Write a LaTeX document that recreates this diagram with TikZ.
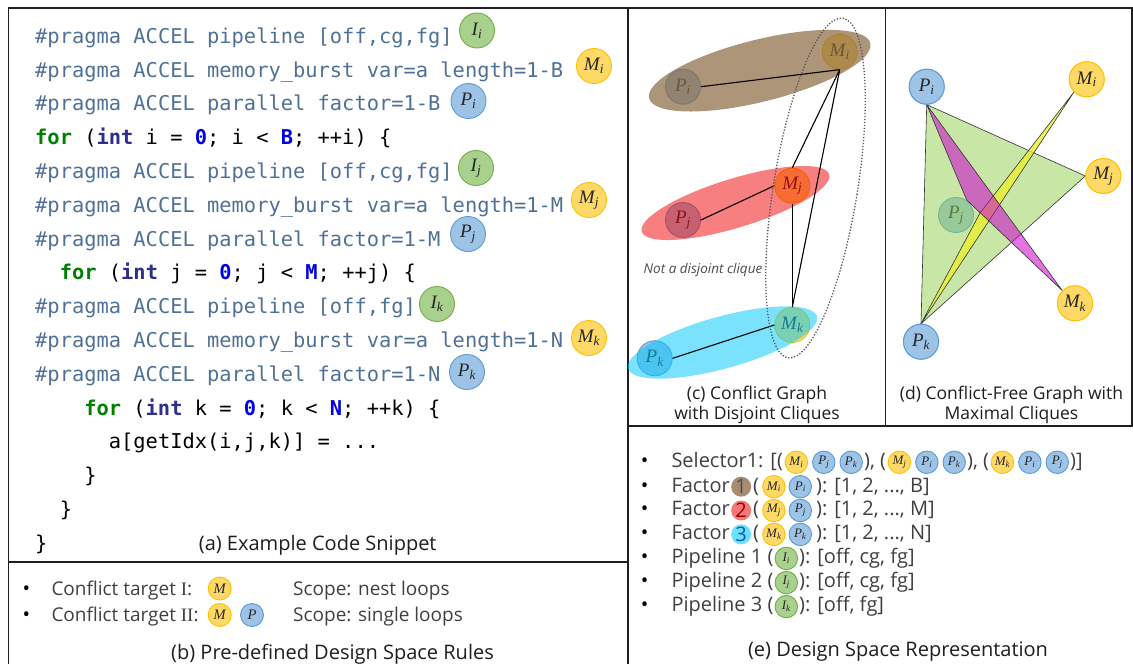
\documentclass[tikz,border=0pt]{standalone}
\usepackage{fontspec}
\setmainfont{Open Sans}
\newfontfamily\codefont{DejaVu Sans Mono}
\newfontfamily\tmsfont{Liberation Serif}
\usetikzlibrary{shapes.geometric}

\definecolor{mfill}{RGB}{255,217,102}
\definecolor{mline}{RGB}{255,192,0}
\definecolor{pfill}{RGB}{157,195,230}
\definecolor{pline}{RGB}{91,155,213}
\definecolor{ifill}{RGB}{169,209,142}
\definecolor{iline}{RGB}{112,173,71}
\definecolor{pragma}{RGB}{80,113,150}
\definecolor{kwgreen}{RGB}{0,128,0}
\definecolor{kwint}{RGB}{46,46,140}
\definecolor{kwnum}{RGB}{0,0,225}
\definecolor{txtgray}{RGB}{64,64,64}
\definecolor{capc}{RGB}{30,30,30}
\definecolor{framec}{RGB}{30,30,30}
\definecolor{brownc}{RGB}{139,104,66}
\definecolor{redc}{RGB}{240,0,0}
\definecolor{cyanc}{RGB}{0,200,250}
\definecolor{trigreen}{RGB}{146,208,80}
\definecolor{triyel}{RGB}{235,240,40}
\definecolor{trimag}{RGB}{204,0,204}
\definecolor{numbrown}{RGB}{168,140,112}
\definecolor{numred}{RGB}{245,120,120}
\definecolor{numcyan}{RGB}{110,225,250}

% badge label: italic letter with italic subscript
\newcommand\bt[2]{{\tmsfont\itshape #1\textsubscript{#2}}}
% code helpers
\newcommand\prag[1]{\textcolor{pragma}{\#pragma ACCEL #1}}
\newcommand\kw[2]{\textcolor{#1}{\bfseries #2}}

\begin{document}
\begin{tikzpicture}[x=1pt,y=-1pt,
  panelframe/.style={draw=framec, line width=1.5pt},
  codeln/.style={anchor=base west, inner sep=0pt, text=black,
    font={\codefont\fontsize{20.4}{24}\selectfont}},
  badge/.style={circle, inner sep=0pt, line width=0.9pt, text=black!85},
  bm/.style={badge, fill=mfill, draw=mline},
  bp/.style={badge, fill=pfill, draw=pline},
  bi/.style={badge, fill=ifill, draw=iline},
  bdbig/.style={minimum size=35pt, font=\fontsize{19}{19}\selectfont},
  bdmid/.style={minimum size=23pt, font=\fontsize{14.5}{14.5}\selectfont},
  bdsml/.style={minimum size=22.5pt, font=\fontsize{13}{13}\selectfont, anchor=west},
  captxt/.style={anchor=base, inner sep=0pt, text=capc, font=\fontsize{20}{24}\selectfont},
  capsm/.style={anchor=base, inner sep=0pt, text=capc, font=\fontsize{17.5}{21}\selectfont},
  itemtxt/.style={anchor=base west, inner sep=0pt, text=txtgray, font=\fontsize{20}{24}\selectfont},
  ruletxt/.style={anchor=base west, inner sep=0pt, text=txtgray, font=\fontsize{19}{23}\selectfont},
  bul/.style={anchor=base, inner sep=0pt, text=black, font=\fontsize{20}{24}\selectfont},
  numc/.style={circle, inner sep=0pt, minimum size=20pt, anchor=west, font=\fontsize{20}{24}\selectfont},
  blob/.style={ellipse, inner sep=0pt},
  cedge/.style={draw=black, line width=1.1pt},
  tri/.style={draw=black!80, line width=0.6pt, line join=round}]

\useasboundingbox (0,0) rectangle (1133,664);
\fill[white] (0,0) rectangle (1133,664);

% ---------------- panel frames ----------------
\draw[panelframe] (8.5,664) -- (8.5,8) -- (1132,8) -- (1132,426);
\draw[panelframe] (628,8) -- (628,664);
\draw[panelframe] (8.5,562) -- (628,562);
\draw[panelframe] (628,426) -- (1133,426);
\draw[panelframe] (885.5,8) -- (885.5,426);

% ---------------- (a) code snippet ----------------
\node[codeln] (l1) at (35,43.3) {\prag{pipeline [off,cg,fg]}};
\node[codeln] (l2) at (35,77.1) {\prag{memory\_burst var=a length=1-B}};
\node[codeln] (l3) at (35,110.9) {\prag{parallel factor=1-B}};
\node[codeln] (l4) at (35,144.7) {\kw{kwgreen}{for} (\kw{kwint}{int} i = \kw{kwnum}{0}; i < \kw{kwnum}{B}; ++i) \{};
\node[codeln] (l5) at (35,178.5) {\prag{pipeline [off,cg,fg]}};
\node[codeln] (l6) at (35,212.3) {\prag{memory\_burst var=a length=1-M}};
\node[codeln] (l7) at (35,246.1) {\prag{parallel factor=1-M}};
\node[codeln] (l8) at (59.6,279.9) {\kw{kwgreen}{for} (\kw{kwint}{int} j = \kw{kwnum}{0}; j < \kw{kwnum}{M}; ++j) \{};
\node[codeln] (l9) at (35,313.7) {\prag{pipeline [off,fg]}};
\node[codeln] (l10) at (35,347.5) {\prag{memory\_burst var=a length=1-N}};
\node[codeln] (l11) at (35,381.3) {\prag{parallel factor=1-N}};
\node[codeln] (l12) at (84.1,415.1) {\kw{kwgreen}{for} (\kw{kwint}{int} k = \kw{kwnum}{0}; k < \kw{kwnum}{N}; ++k) \{};
\node[codeln] (l13) at (108.7,448.9) {a[getIdx(i,j,k)] = ...};
\node[codeln] (l14) at (84.1,482.7) {\}};
\node[codeln] (l15) at (59.6,516.5) {\}};
\node[codeln] (l16) at (35,550.3) {\}};

\node[bi,bdbig] (aIi) at (477,30.5) {\bt{I}{i}};
\node[bm,bdbig] (aMi) at (594,66) {\bt{M}{i}};
\node[bp,bdbig] (aPi) at (468.5,101) {\bt{P}{i}};
\node[bi,bdbig] (aIj) at (476,168) {\bt{I}{j}};
\node[bm,bdbig] (aMj) at (589,200) {\bt{M}{j}};
\node[bp,bdbig] (aPj) at (468,234) {\bt{P}{j}};
\node[bi,bdbig] (aIk) at (437,304) {\bt{I}{k}};
\node[bm,bdbig] (aMk) at (589,338) {\bt{M}{k}};
\node[bp,bdbig] (aPk) at (467,372) {\bt{P}{k}};

\node[captxt] (capa) at (317.7,550.7) {(a) Example Code Snippet};

% ---------------- (b) rules ----------------
\node[bul] (bb1) at (26.3,595) {•};
\node[ruletxt] (bt1) at (51.3,595) {Conflict target {\tmsfont I}:};
\node[bm,bdmid] (bM1) at (219.7,588.5) {{\tmsfont\itshape M}};
\node[ruletxt] (bs1) at (293,595) {Scope: nest loops};
\node[bul] (bb2) at (26.3,621.7) {•};
\node[ruletxt] (bt2) at (51.3,621.7) {Conflict target {\tmsfont II}:};
\node[bm,bdmid] (bM2) at (219.7,615) {{\tmsfont\itshape M}};
\node[bp,bdmid] (bP2) at (252,615) {{\tmsfont\itshape P}};
\node[ruletxt] (bs2) at (293,621.7) {Scope: single loops};
\node[captxt] (capb) at (332.5,659.3) {(b) Pre-defined Design Space Rules};

% ---------------- (c) conflict graph ----------------
\node[bp,bdbig] (cPi) at (683,86.7) {\bt{P}{i}};
\node[bm,bdbig] (cMi) at (839.7,51.7) {\bt{M}{i}};
\node[bm,bdbig] (cMj) at (792.3,185.7) {\bt{M}{j}};
\node[bp,bdbig] (cPj) at (683,220) {\bt{P}{j}};
\node[bm,bdbig] (cMk) at (792.3,325) {\bt{M}{k}};
\node[bp,bdbig] (cPk) at (654.7,358.3) {\bt{P}{k}};

\node[blob, fill=brownc, fill opacity=0.7, minimum width=228pt, minimum height=62pt, rotate=14] (eb) at (759.7,70.7) {};
\node[blob, fill=redc, fill opacity=0.5, minimum width=196pt, minimum height=49pt, rotate=17] (er) at (735.5,203) {};
\node[blob, fill=cyanc, fill opacity=0.52, minimum width=196pt, minimum height=52pt, rotate=15.4] (ec) at (722.5,342.5) {};

\draw[cedge] (cPi.east) -- (cMi.south);
\draw[cedge] (cMi.south) -- (cMj.north);
\draw[cedge] (cMi.south) -- (cMk.north);
\draw[cedge] (cMj.south) -- (cMk.north);
\draw[cedge] (cPj.east) -- (cMj.west);
\draw[cedge] (cPk.east) -- (cMk.west);

\node[blob, draw=black!65, line width=1.3pt, dash pattern=on 1.3pt off 1.7pt,
  minimum width=84pt, minimum height=344pt, rotate=-9.2] (edot) at (815.5,188) {};
\node[inner sep=0pt, text=black!70, font={\itshape\fontsize{13.5}{16}\selectfont}] (ncl) at (703,270) {Not a disjoint clique};

\node[capsm] (capc1) at (757,399) {(c) Conflict Graph};
\node[capsm] (capc2) at (757,419.3) {with Disjoint Cliques};

% ---------------- (d) conflict-free graph ----------------
\node[bp,bdbig] (dPj) at (956,215) {\bt{P}{j}};
\coordinate (yv) at (980,213);
\coordinate (mv) at (966.7,200);
\node[bp,bdbig] (dPi) at (926.7,86.7) {\bt{P}{i}};
\node[bm,bdbig] (dMi) at (1086.7,79.3) {\bt{M}{i}};
\node[bm,bdbig] (dMj) at (1103.3,176) {\bt{M}{j}};
\node[bm,bdbig] (dMk) at (1075,303.3) {\bt{M}{k}};
\node[bp,bdbig] (dPk) at (921,341.7) {\bt{P}{k}};

\filldraw[tri, fill=trigreen, fill opacity=0.5] (dPi.south) -- (dMj.west) -- (dPk.north) -- cycle;
\filldraw[tri, fill=triyel, fill opacity=0.75] (dMi.south west) -- (yv) -- (dPk.north) -- cycle;
\filldraw[tri, fill=trimag, fill opacity=0.55] (dPi.south) -- (mv) -- (dMk.north west) -- cycle;

% nodes redrawn above the cliques
\node[bp,bdbig] (dPi2) at (dPi) {\bt{P}{i}};
\node[bm,bdbig] (dMi2) at (dMi) {\bt{M}{i}};
\node[bm,bdbig] (dMj2) at (dMj) {\bt{M}{j}};
\node[bm,bdbig] (dMk2) at (dMk) {\bt{M}{k}};
\node[bp,bdbig] (dPk2) at (dPk) {\bt{P}{k}};

\node[capsm] (capd1) at (1011.5,399) {(d) Conflict-Free Graph with};
\node[capsm] (capd2) at (1011.5,419.3) {Maximal Cliques};

% ---------------- (e) design space ----------------
\coordinate (r1) at (0,462.3);
\coordinate (r2) at (0,486.7);
\coordinate (r3) at (0,510.5);
\coordinate (r4) at (0,534.4);
\coordinate (r5) at (0,558.4);
\coordinate (r6) at (0,582.6);
\coordinate (r7) at (0,606.6);

% Selector
\node[bul] (eb1) at (644.7,467.7) {•};
\node[itemtxt] (es1) at (671.3,467.7) {Selector1: [(};
\node[bm,bdsml,xshift=1.5pt] (s1a) at (es1.east |- r1) {\bt{M}{i}};
\node[bp,bdsml,xshift=4pt] (s1b) at (s1a.east) {\bt{P}{j}};
\node[bp,bdsml,xshift=4pt] (s1c) at (s1b.east) {\bt{P}{k}};
\node[itemtxt,xshift=1pt] (es2) at (s1c.east |- es1.base) {), (};
\node[bm,bdsml,xshift=1.5pt] (s2a) at (es2.east |- r1) {\bt{M}{j}};
\node[bp,bdsml,xshift=4pt] (s2b) at (s2a.east) {\bt{P}{i}};
\node[bp,bdsml,xshift=4pt] (s2c) at (s2b.east) {\bt{P}{k}};
\node[itemtxt,xshift=1pt] (es3) at (s2c.east |- es1.base) {), (};
\node[bm,bdsml,xshift=1.5pt] (s3a) at (es3.east |- r1) {\bt{M}{k}};
\node[bp,bdsml,xshift=4pt] (s3b) at (s3a.east) {\bt{P}{i}};
\node[bp,bdsml,xshift=4pt] (s3c) at (s3b.east) {\bt{P}{j}};
\node[itemtxt,xshift=1pt] (es4) at (s3c.east |- es1.base) {)]};

% Factors
\node[bul] (eb2) at (644.7,492) {•};
\node[itemtxt] (ef1) at (671.3,492) {Factor};
\node[numc, fill=numbrown, text=black!70, xshift=1pt] (n1) at (ef1.east |- r2) {1};
\node[itemtxt, xshift=1.5pt] (ef1b) at (n1.east |- ef1.base) {(};
\node[bm,bdsml,xshift=3pt] (f1a) at (ef1b.east |- r2) {\bt{M}{i}};
\node[bp,bdsml,xshift=3pt] (f1b) at (f1a.east) {\bt{P}{i}};
\node[itemtxt,xshift=4pt] (ef1c) at (f1b.east |- ef1.base) {): [1, 2, ..., B]};

\node[bul] (eb3) at (644.7,515.8) {•};
\node[itemtxt] (ef2) at (671.3,515.8) {Factor};
\node[numc, fill=numred, text=red!60!black, xshift=1pt] (n2) at (ef2.east |- r3) {2};
\node[itemtxt, xshift=1.5pt] (ef2b) at (n2.east |- ef2.base) {(};
\node[bm,bdsml,xshift=3pt] (f2a) at (ef2b.east |- r3) {\bt{M}{j}};
\node[bp,bdsml,xshift=3pt] (f2b) at (f2a.east) {\bt{P}{j}};
\node[itemtxt,xshift=4pt] (ef2c) at (f2b.east |- ef2.base) {): [1, 2, ..., M]};

\node[bul] (eb4) at (644.7,539.7) {•};
\node[itemtxt] (ef3) at (671.3,539.7) {Factor};
\node[numc, fill=numcyan, text=blue!50!cyan!70!black, xshift=1pt] (n3) at (ef3.east |- r4) {3};
\node[itemtxt, xshift=1.5pt] (ef3b) at (n3.east |- ef3.base) {(};
\node[bm,bdsml,xshift=3pt] (f3a) at (ef3b.east |- r4) {\bt{M}{k}};
\node[bp,bdsml,xshift=3pt] (f3b) at (f3a.east) {\bt{P}{k}};
\node[itemtxt,xshift=4pt] (ef3c) at (f3b.east |- ef3.base) {): [1, 2, ..., N]};

% Pipelines
\node[bul] (eb5) at (644.7,563.7) {•};
\node[itemtxt] (ep1) at (671.3,563.7) {Pipeline 1 (};
\node[bi,bdsml,xshift=1pt] (p1a) at (ep1.east |- r5) {\bt{I}{i}};
\node[itemtxt,xshift=1pt] (ep1b) at (p1a.east |- ep1.base) {): [off, cg, fg]};

\node[bul] (eb6) at (644.7,587.9) {•};
\node[itemtxt] (ep2) at (671.3,587.9) {Pipeline 2 (};
\node[bi,bdsml,xshift=1pt] (p2a) at (ep2.east |- r6) {\bt{I}{j}};
\node[itemtxt,xshift=1pt] (ep2b) at (p2a.east |- ep2.base) {): [off, cg, fg]};

\node[bul] (eb7) at (644.7,611.9) {•};
\node[itemtxt] (ep3) at (671.3,611.9) {Pipeline 3 (};
\node[bi,bdsml,xshift=1pt] (p3a) at (ep3.east |- r7) {\bt{I}{k}};
\node[itemtxt,xshift=1pt] (ep3b) at (p3a.east |- ep3.base) {): [off, fg]};

\node[captxt] (cape) at (898,656.7) {(e) Design Space Representation};

\end{tikzpicture}
\end{document}
